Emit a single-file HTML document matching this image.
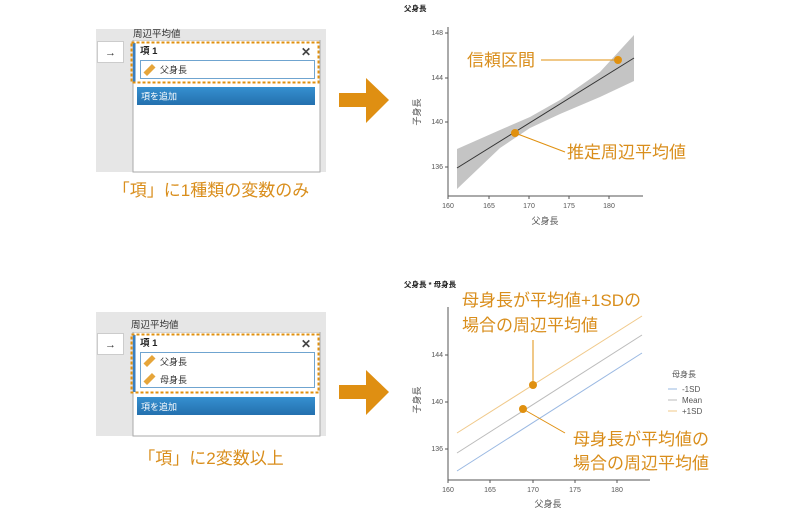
<!DOCTYPE html>
<html><head><meta charset="utf-8"><style>
html,body{margin:0;padding:0;background:#fff;}
svg text{font-family:"Liberation Sans","Noto Sans CJK JP",sans-serif;}
</style></head><body>
<svg width="800" height="516" viewBox="0 0 800 516" xmlns="http://www.w3.org/2000/svg">
<defs><linearGradient id="bg" x1="0" y1="0" x2="0" y2="1"><stop offset="0" stop-color="#3590d0"/><stop offset="1" stop-color="#2470ae"/></linearGradient></defs>
<!-- top panel -->
<rect x="96" y="29" width="230" height="143" fill="#e6e6e6"/>
<rect x="133" y="40" width="187" height="132" fill="#fff" stroke="#aaa" stroke-width="1"/>
<rect x="96" y="29" width="230" height="11" fill="#e6e6e6"/>
<text x="133" y="37" font-size="9.5" fill="#333">周辺平均値</text>
<rect x="97.5" y="41.5" width="26" height="21" fill="#fff" stroke="#ccc"/>
<text x="110.5" y="56" font-size="11" fill="#333" text-anchor="middle">→</text>
<rect x="133" y="43" width="2.5" height="39" fill="#3a7fc0"/>
<rect x="131.5" y="42.5" width="187" height="40" fill="none" stroke="#e0900f" stroke-width="2" stroke-dasharray="3,2"/>
<text x="140" y="54" font-size="9.5" font-weight="bold" fill="#222">項 1</text>
<text x="306" y="56" font-size="12" font-weight="bold" fill="#444" text-anchor="middle">✕</text>
<rect x="140.5" y="60.5" width="174" height="18" fill="#fff" stroke="#6fa4d0"/>
<rect x="147" y="64" width="5" height="12" fill="#e6a53a" transform="rotate(45 149.5 70)"/>
<text x="160" y="73" font-size="9" fill="#333">父身長</text>
<rect x="137" y="87" width="178" height="18" fill="url(#bg)"/>
<text x="141" y="99.5" font-size="9" fill="#fff">項を追加</text>
<text x="211" y="196" font-size="17" fill="#d98e1c" text-anchor="middle">「項」に1種類の変数のみ</text>

<!-- bottom panel -->
<rect x="96" y="312" width="230" height="124" fill="#e6e6e6"/>
<rect x="133" y="332" width="187" height="104" fill="#fff" stroke="#aaa"/>
<rect x="96" y="312" width="230" height="20" fill="#e6e6e6"/>
<text x="131" y="328" font-size="9.5" fill="#333">周辺平均値</text>
<rect x="97.5" y="333.5" width="26" height="21" fill="#fff" stroke="#ccc"/>
<text x="110.5" y="348" font-size="11" fill="#333" text-anchor="middle">→</text>
<rect x="133" y="335" width="2.5" height="57" fill="#3a7fc0"/>
<rect x="131.5" y="334.5" width="187" height="58" fill="none" stroke="#e0900f" stroke-width="2" stroke-dasharray="3,2"/>
<text x="140" y="346" font-size="9.5" font-weight="bold" fill="#222">項 1</text>
<text x="306" y="348" font-size="12" font-weight="bold" fill="#444" text-anchor="middle">✕</text>
<rect x="140.5" y="352.5" width="174" height="35" fill="#fff" stroke="#6fa4d0"/>
<rect x="147" y="355" width="5" height="12" fill="#e6a53a" transform="rotate(45 149.5 361)"/>
<text x="160" y="365" font-size="9" fill="#333">父身長</text>
<rect x="147" y="373" width="5" height="12" fill="#e6a53a" transform="rotate(45 149.5 379)"/>
<text x="160" y="383" font-size="9" fill="#333">母身長</text>
<rect x="137" y="397" width="178" height="18" fill="url(#bg)"/>
<text x="141" y="410" font-size="9" fill="#fff">項を追加</text>
<text x="211" y="464" font-size="17" fill="#d98e1c" text-anchor="middle">「項」に2変数以上</text>

<!-- arrows -->
<polygon points="339,93 366,93 366,78 389,100 366,123 366,107 339,107" fill="#df8f12"/>
<polygon points="339,385 366,385 366,370 389,392 366,415 366,399 339,399" fill="#df8f12"/>

<!-- chart 1 -->
<text x="404" y="11" font-size="7.5" font-weight="bold" fill="#222">父身長</text>
<line x1="448" y1="27" x2="448" y2="196" stroke="#555" stroke-width="1"/>
<line x1="448" y1="196" x2="643" y2="196" stroke="#555" stroke-width="1"/>
<g font-size="7" fill="#555" text-anchor="end">
<text x="443" y="35">148</text><text x="443" y="80">144</text><text x="443" y="124">140</text><text x="443" y="169">136</text></g>
<g stroke="#555"><line x1="445" y1="33" x2="448" y2="33"/><line x1="445" y1="78" x2="448" y2="78"/><line x1="445" y1="122" x2="448" y2="122"/><line x1="445" y1="167" x2="448" y2="167"/>
<line x1="448" y1="196" x2="448" y2="199"/><line x1="489" y1="196" x2="489" y2="199"/><line x1="529" y1="196" x2="529" y2="199"/><line x1="569" y1="196" x2="569" y2="199"/><line x1="609" y1="196" x2="609" y2="199"/></g>
<g font-size="7" fill="#555" text-anchor="middle">
<text x="448" y="208">160</text><text x="489" y="208">165</text><text x="529" y="208">170</text><text x="569" y="208">175</text><text x="609" y="208">180</text></g>
<text x="545" y="224" font-size="9" fill="#555" text-anchor="middle">父身長</text>
<text x="420" y="112" font-size="9" fill="#555" text-anchor="middle" transform="rotate(-90 420 112)">子身長</text>
<path d="M457,149 L500,130 L530,117 L560,100 L600,72 L634,35 L634,81 L600,97 L560,114 L530,128 L500,148 L457,189 Z" fill="#c4c4c4"/>
<line x1="457" y1="168" x2="634" y2="58" stroke="#333" stroke-width="1"/>
<line x1="541" y1="60" x2="618" y2="60" stroke="#e0900f" stroke-width="1"/>
<circle cx="618" cy="60" r="4" fill="#e0900f"/>
<text x="467" y="66" font-size="17" fill="#d98e1c">信頼区間</text>
<polyline points="515,133 565,152" fill="none" stroke="#e0900f" stroke-width="1"/>
<circle cx="515" cy="133" r="4" fill="#e0900f"/>
<text x="567" y="158" font-size="17" fill="#d98e1c">推定周辺平均値</text>

<!-- chart 2 -->
<text x="404" y="287" font-size="7.5" font-weight="bold" fill="#222">父身長 * 母身長</text>
<line x1="448" y1="307" x2="448" y2="480" stroke="#555"/>
<line x1="448" y1="480" x2="650" y2="480" stroke="#555"/>
<g stroke="#555"><line x1="445" y1="355" x2="448" y2="355"/><line x1="445" y1="402" x2="448" y2="402"/><line x1="445" y1="449" x2="448" y2="449"/>
<line x1="448" y1="480" x2="448" y2="483"/><line x1="490" y1="480" x2="490" y2="483"/><line x1="533" y1="480" x2="533" y2="483"/><line x1="575" y1="480" x2="575" y2="483"/><line x1="617" y1="480" x2="617" y2="483"/></g>
<g font-size="7" fill="#555" text-anchor="end"><text x="443" y="357">144</text><text x="443" y="404">140</text><text x="443" y="451">136</text></g>
<g font-size="7" fill="#555" text-anchor="middle"><text x="448" y="492">160</text><text x="490" y="492">165</text><text x="533" y="492">170</text><text x="575" y="492">175</text><text x="617" y="492">180</text></g>
<text x="548" y="507" font-size="9" fill="#555" text-anchor="middle">父身長</text>
<text x="420" y="400" font-size="9" fill="#555" text-anchor="middle" transform="rotate(-90 420 400)">子身長</text>
<line x1="457" y1="433" x2="642" y2="316" stroke="#f0c98a" stroke-width="1"/>
<line x1="457" y1="453" x2="642" y2="335" stroke="#bbb" stroke-width="1"/>
<line x1="457" y1="471" x2="642" y2="353" stroke="#9ab8e2" stroke-width="1"/>
<line x1="533" y1="340" x2="533" y2="385" stroke="#e0900f"/>
<circle cx="533" cy="385" r="4" fill="#e0900f"/>
<line x1="523" y1="409" x2="565" y2="433" stroke="#e0900f"/>
<circle cx="523" cy="409" r="4" fill="#e0900f"/>
<text x="462" y="306" font-size="17" fill="#d98e1c">母身長が平均値+1SDの</text>
<text x="462" y="331" font-size="17" fill="#d98e1c">場合の周辺平均値</text>
<text x="573" y="445" font-size="17" fill="#d98e1c">母身長が平均値の</text>
<text x="573" y="469" font-size="17" fill="#d98e1c">場合の周辺平均値</text>
<text x="672" y="377" font-size="8" fill="#555">母身長</text>
<line x1="668" y1="389" x2="677" y2="389" stroke="#9ab8e2"/>
<line x1="668" y1="400" x2="677" y2="400" stroke="#bbb"/>
<line x1="668" y1="411" x2="677" y2="411" stroke="#f0c98a"/>
<g font-size="8" fill="#555"><text x="682" y="392">-1SD</text><text x="682" y="403">Mean</text><text x="682" y="414">+1SD</text></g>
</svg>
</body></html>
